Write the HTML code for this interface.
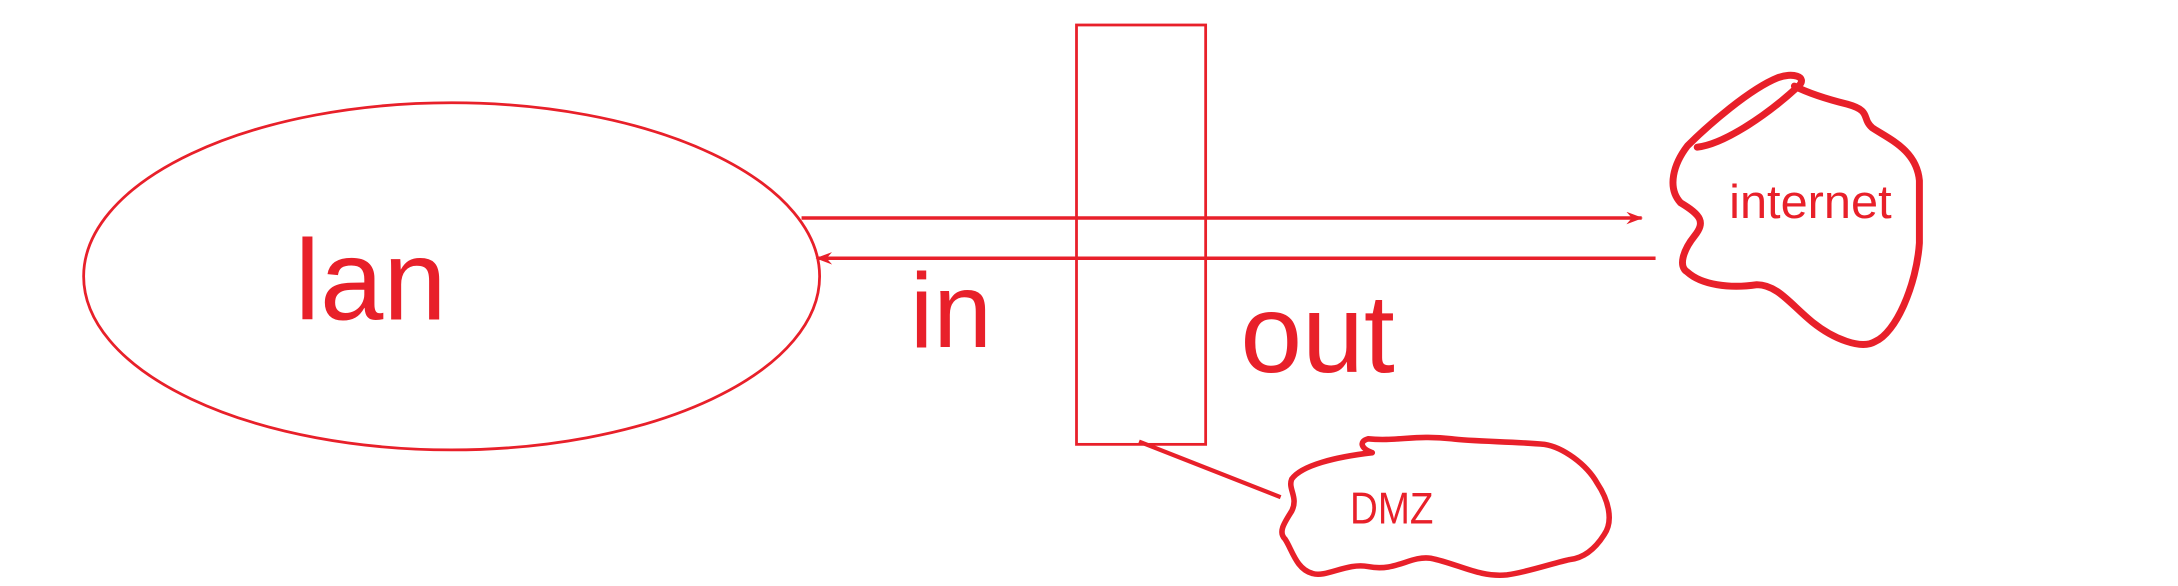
<!DOCTYPE html>
<html><head><meta charset="utf-8"><style>
html,body{margin:0;padding:0;background:#fff;width:2178px;height:586px;overflow:hidden}
svg{display:block}
text{font-family:"Liberation Sans","DejaVu Sans",sans-serif;fill:#e8202a}
</style></head><body>
<svg width="2178" height="586" viewBox="0 0 1568 422" xmlns="http://www.w3.org/2000/svg">
<defs>
<marker id="ah" markerWidth="12" markerHeight="9" refX="11" refY="4.5" orient="auto" markerUnits="userSpaceOnUse"><path d="M0,0 L12,4.5 L0,9 L4,4.5 Z" fill="#e8202a"/></marker>
</defs>
<g>
<ellipse cx="325" cy="199" rx="265" ry="125" fill="none" stroke="#e8202a" stroke-width="2"/>
<text x="212" y="230" font-size="82">lan</text>
</g>
<rect x="775" y="18" width="93" height="302" fill="none" stroke="#e8202a" stroke-width="2"/>
<line x1="577" y1="157" x2="1182" y2="157" stroke="#e8202a" stroke-width="2.5" marker-end="url(#ah)"/>
<line x1="1192" y1="186" x2="588" y2="186" stroke="#e8202a" stroke-width="2.5" marker-end="url(#ah)"/>
<text x="655" y="250" font-size="76">in</text>
<text x="893" y="268" font-size="80">out</text>
<g>
<path d="M1222,106 C1240,104 1270,85 1295,62 C1302,55 1290,52 1280,56 C1260,64 1230,90 1215,105 C1205,118 1200,135 1210,146 C1225,155 1228,160 1220,170 C1212,180 1208,192 1215,196 C1225,205 1245,208 1265,205 C1280,205 1290,220 1305,232 C1320,244 1340,252 1350,246 C1365,240 1380,205 1382,175 L1382,130 C1380,108 1360,100 1348,92 C1340,85 1348,80 1330,75 C1310,70 1300,66 1292,62" fill="none" stroke="#e8202a" stroke-width="5" stroke-linejoin="round" stroke-linecap="round"/>
<text x="1245" y="157" font-size="34" textLength="117" lengthAdjust="spacingAndGlyphs">internet</text>
</g>
<line x1="820" y1="318" x2="922" y2="358" stroke="#e8202a" stroke-width="3"/>
<g>
<path d="M988,326 C962,329 937,335 930,345 C927,352 935,358 930,368 C925,376 920,383 925,388 C930,395 933,410 945,413 C955,416 970,405 985,408 C1005,412 1015,400 1030,402 C1050,406 1065,416 1085,414 C1100,412 1120,405 1130,403 C1140,402 1148,396 1155,385 C1162,375 1158,360 1150,348 C1142,334 1125,322 1112,320 C1090,318 1060,318 1045,316 C1020,313 1005,318 985,316 C978,318 980,323 988,326" fill="none" stroke="#e8202a" stroke-width="4" stroke-linejoin="round" stroke-linecap="round"/>
<text x="972" y="377" font-size="32" textLength="60" lengthAdjust="spacingAndGlyphs">DMZ</text>
</g>
</svg>
</body></html>
